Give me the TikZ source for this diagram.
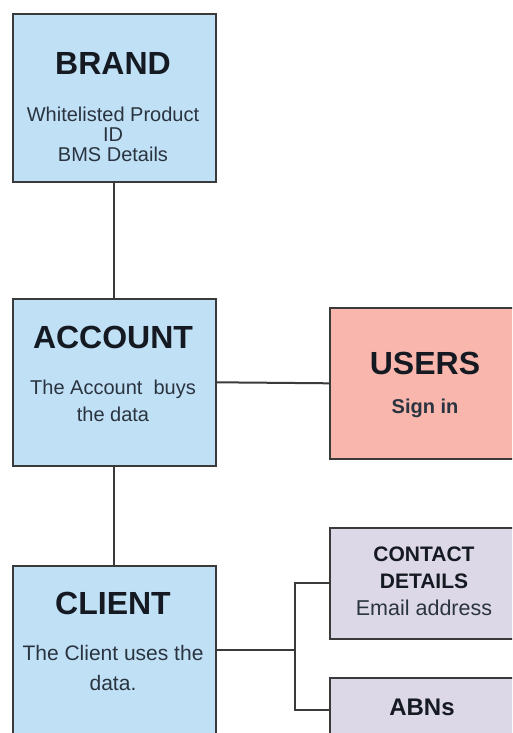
\documentclass[tikz,border=0pt]{standalone}
\usepackage{fontspec}
\setmainfont{Liberation Sans}
\definecolor{boxblue}{HTML}{C0E0F5}
\definecolor{boxpink}{HTML}{F8B6AC}
\definecolor{boxlav}{HTML}{DDD8E8}
\definecolor{edge}{HTML}{3A3A3A}
\definecolor{ttl}{HTML}{151A22}
\definecolor{sub}{HTML}{2A3440}
\tikzset{
  boxnode/.style={draw=edge, line width=1.6pt, rectangle, anchor=north west, inner sep=0pt},
  titletext/.style={font=\bfseries\fontsize{32}{34}\selectfont, text=ttl, inner sep=0pt},
  smalltitle/.style={font=\bfseries\fontsize{21}{27}\selectfont, text=ttl, inner sep=0pt, align=center},
  subtext/.style={font=\fontsize{20}{20}\selectfont, text=sub, inner sep=0pt, align=center},
  conn/.style={draw=edge, line width=2pt}
}
\begin{document}
\begin{tikzpicture}[x=1pt,y=-1pt]
\useasboundingbox (0,0) rectangle (512,733);
\clip (0,0) rectangle (512,733);
\fill[white] (0,0) rectangle (512,733);
% boxes
\node[boxnode, fill=boxblue, minimum width=203pt, minimum height=168pt] (brand) at (12,13) {};
\node[boxnode, fill=boxblue, minimum width=203pt, minimum height=167pt] (account) at (12,298) {};
\node[boxnode, fill=boxblue, minimum width=203pt, minimum height=168pt] (client) at (12,565) {};
\node[boxnode, fill=boxpink, minimum width=200pt, minimum height=151pt] (users) at (329,307) {};
\node[boxnode, fill=boxlav, minimum width=200pt, minimum height=111pt] (contact) at (329,527) {};
\node[boxnode, fill=boxlav, minimum width=200pt, minimum height=64pt] (abns) at (329,677) {};
% texts
\node[titletext] (brandt) at (113,63) {BRAND};
\node[subtext, font=\fontsize{20}{20}\selectfont] (brands) at (113,134) {Whitelisted Product\\ID\\BMS Details};
\node[titletext] (accountt) at (113,337) {ACCOUNT};
\node[subtext, font=\fontsize{20}{27}\selectfont] (accounts) at (113,401) {The Account\ \ buys\\the data};
\node[titletext] (userst) at (425,363) {USERS};
\node[subtext, font=\bfseries\fontsize{20}{20}\selectfont] (userss) at (425,408) {Sign in};
\node[titletext] (clientt) at (113,603) {CLIENT};
\node[subtext, font=\fontsize{21}{30}\selectfont] (clients) at (113,668) {The Client uses the\\data.};
\node[smalltitle] (contactt) at (424,568) {CONTACT\\DETAILS};
\node[subtext, font=\fontsize{21.5}{22}\selectfont] (contacts) at (424,608) {Email address};
\node[titletext, font=\bfseries\fontsize{24}{26}\selectfont] (abnst) at (422,707) {ABNs};
% connectors
\draw[conn] (brand.south) -- (account.north);
\draw[conn] (account.south) -- (client.north);
\draw[conn] (account.east) -- (users.west);
\draw[conn] (client.east) -- ++(78,0) coordinate (junc);
\draw[conn] (contact.west) -| (junc);
\draw[conn] (abns.west) -| (junc);
\end{tikzpicture}
\end{document}
